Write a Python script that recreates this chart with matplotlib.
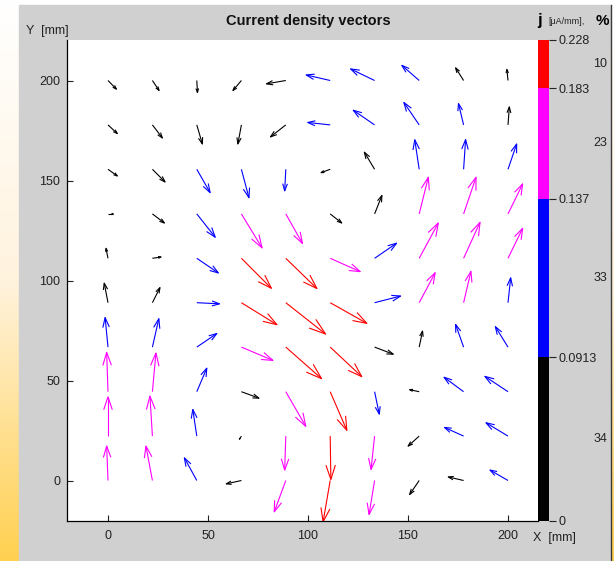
import numpy as np
import matplotlib.pyplot as plt
from matplotlib.collections import LineCollection
from matplotlib.colors import LinearSegmentedColormap
from matplotlib.patches import Rectangle

plt.rcParams['font.family'] = ['Liberation Sans', 'DejaVu Sans']

# grid of measuring points [mm]
x_mm = [0, 22.2, 44.4, 66.7, 88.9, 111.1, 133.3, 155.6, 177.8, 200]
y_mm = [200, 177.8, 155.6, 133.3, 111.1, 88.9, 66.7, 44.4, 22.2, 0]

# current density components [uA/mm], rows from top (y=200) to bottom (y=0)
jx = [
    [0.038, 0.030, 0.003, -0.038, -0.087, -0.108, -0.108, -0.078, -0.036, -0.005],
    [0.042, 0.045, 0.025, -0.016, -0.069, -0.101, -0.096, -0.069, -0.023, 0.006],
    [0.042, 0.057, 0.060, 0.034, -0.005, -0.041, -0.046, -0.020, 0.009, 0.039],
    [0.024, 0.054, 0.083, 0.093, 0.075, 0.052, 0.033, 0.041, 0.056, 0.066],
    [-0.009, 0.039, 0.097, 0.135, 0.140, 0.135, 0.099, 0.086, 0.074, 0.066],
    [-0.017, 0.034, 0.102, 0.160, 0.179, 0.165, 0.117, 0.072, 0.033, 0.012],
    [-0.013, 0.029, 0.090, 0.142, 0.161, 0.142, 0.084, 0.015, -0.036, -0.057],
    [-0.006, 0.016, 0.045, 0.079, 0.090, 0.075, 0.021, -0.043, -0.088, -0.104],
    [0.000, -0.011, -0.018, -0.009, -0.005, 0.003, -0.016, -0.050, -0.086, -0.099],
    [-0.006, -0.029, -0.056, -0.068, -0.052, -0.032, -0.025, -0.043, -0.069, -0.081],
]
jy = [
    [-0.039, -0.045, -0.054, -0.045, -0.015, 0.025, 0.052, 0.068, 0.057, 0.050],
    [-0.039, -0.059, -0.086, -0.086, -0.054, 0.011, 0.066, 0.101, 0.096, 0.081],
    [-0.030, -0.057, -0.105, -0.128, -0.097, -0.015, 0.077, 0.133, 0.134, 0.114],
    [0.000, -0.041, -0.105, -0.153, -0.133, -0.041, 0.083, 0.165, 0.165, 0.135],
    [0.045, 0.006, -0.066, -0.135, -0.136, -0.060, 0.068, 0.159, 0.162, 0.135],
    [0.088, 0.068, -0.005, -0.099, -0.141, -0.093, 0.030, 0.135, 0.141, 0.112],
    [0.133, 0.128, 0.061, -0.060, -0.142, -0.133, -0.032, 0.072, 0.102, 0.092],
    [0.177, 0.174, 0.106, -0.029, -0.156, -0.174, -0.101, 0.009, 0.065, 0.069],
    [0.177, 0.180, 0.120, -0.014, -0.153, -0.195, -0.150, -0.045, 0.039, 0.060],
    [0.155, 0.155, 0.102, -0.015, -0.141, -0.186, -0.153, -0.063, 0.016, 0.047],
]

bounds = [0, 0.0913, 0.137, 0.183, 0.228]
bound_labels = ['0', '0.0913', '0.137', '0.183', '0.228']
class_colors = ['#000000', '#0000ff', '#ff00ff', '#ff0000']

W, H = 614, 561
fig = plt.figure(figsize=(W / 100, H / 100), dpi=100, facecolor='white')


def fx(px):
    return px / W


def fy(py):
    return 1 - py / H


# background: grey panel + yellow gradient strips
bg = fig.add_axes([0, 0, 1, 1], zorder=-10)
bg.axis('off')
grad = np.linspace(0, 1, 256).reshape(-1, 1)
ycmap = LinearSegmentedColormap.from_list('y', ['#ffffff', '#fff3de', '#ffd050'])
bg.imshow(grad, extent=(0, 19, H, 0), cmap=ycmap, aspect='auto')
bg.imshow(grad, extent=(611, W, H, 0), cmap=ycmap, aspect='auto')
bg.add_patch(Rectangle((19, 5), 591, H - 5, color='#d0d0d0'))
bg.plot([610.5, 610.5], [5, H], color='#3a3a3a', lw=1)
bg.set_xlim(0, W)
bg.set_ylim(H, 0)

# main plot
top, bottom = 40, 520.5
ax = fig.add_axes([fx(67), fy(bottom), fx(538 - 67), (bottom - top) / H])
ax.set_facecolor('white')

X, Y = np.meshgrid(x_mm, y_mm)
U = np.array(jx)
V = np.array(jy)
mag = np.hypot(U, V)
cls = np.digitize(mag, bounds[1:-1])

scale = 111.1  # mm of arrow per uA/mm
a, b = 0.33, 0.33
segs, cols = [], []
for x0, y0, u, v, c in zip(X.ravel(), Y.ravel(), U.ravel() * scale, V.ravel() * scale, cls.ravel()):
    xe, ye = x0 + u, y0 + v
    segs.append([(x0, y0), (xe, ye)])
    segs.append([(xe - a * (u + b * v), ye - a * (v - b * u)), (xe, ye),
                 (xe - a * (u - b * v), ye - a * (v + b * u))])
    cols += [class_colors[c]] * 2
ax.add_collection(LineCollection(segs, colors=cols, linewidths=0.8))

ax.set_xlim(-20.5, 215)
ax.set_ylim(-20, 220.25)
ax.set_xticks([0, 50, 100, 150, 200])
ax.set_yticks([0, 50, 100, 150, 200])
ax.tick_params(direction='in', length=4, width=0.8, labelsize=9, colors='#222222')
ax.tick_params(axis='x', pad=7)
ax.tick_params(axis='y', pad=5)
for s in ['top', 'right']:
    ax.spines[s].set_visible(False)
for s in ['left', 'bottom']:
    ax.spines[s].set_linewidth(0.9)

# colour bar, segments sized by share of vectors in each class
counts = np.bincount(cls.ravel(), minlength=4)
pct = np.round(100 * counts / counts.sum()).astype(int)
cum = np.concatenate([[0], np.cumsum(pct)])
cax = fig.add_axes([fx(538), fy(bottom), fx(11), (bottom - top) / H])
cax.bar(0, pct, bottom=cum[:-1], width=1, color=class_colors)
cax.set_xlim(-0.5, 0.5)
cax.set_ylim(0, cum[-1])
cax.set_xticks([])
cax.yaxis.tick_right()
cax.set_yticks(cum)
cax.set_yticklabels(bound_labels)
cax.tick_params(axis='y', direction='out', length=5, width=0.8, labelsize=9, pad=2, colors='#222222')
for s in cax.spines.values():
    s.set_visible(False)
for p, lo in zip(pct, cum[:-1]):
    cax.text(6.3, lo + p / 2, str(p), transform=cax.get_yaxis_transform(),
             ha='right', va='center', fontsize=9, color='#222222')

# labels
fig.text(fx(308), fy(21), 'Current density vectors', ha='center', va='center',
         fontsize=10.5, fontweight='bold', color='#111111')
fig.text(fx(26), fy(31), 'Y  [mm]', ha='left', va='center', fontsize=9, color='#222222')
fig.text(fx(533), fy(538), 'X  [mm]', ha='left', va='center', fontsize=9, color='#222222')
fig.text(fx(537), fy(21), 'j', ha='left', va='center', fontsize=12, fontweight='bold')
fig.text(fx(548), fy(21), '[\u03bcA/mm],', ha='left', va='center', fontsize=6.5, color='#222222')
fig.text(fx(596), fy(21), '%', ha='left', va='center', fontsize=11, fontweight='bold')

fig.savefig('out.png', dpi=100, facecolor=fig.get_facecolor())
